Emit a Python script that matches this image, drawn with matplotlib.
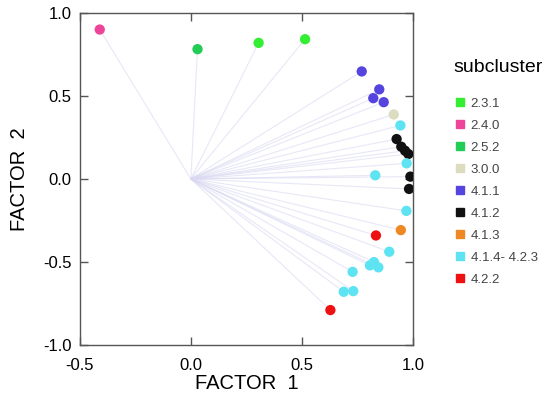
import numpy as np
import matplotlib
matplotlib.use('Agg')
import matplotlib.pyplot as plt
from matplotlib.lines import Line2D

plt.rcParams['font.family'] = ['Liberation Sans', 'DejaVu Sans']
plt.rcParams['axes.unicode_minus'] = False

# subcluster names and colours (legend order)
subclusters = ['2.3.1', '2.4.0', '2.5.2', '3.0.0', '4.1.1', '4.1.2', '4.1.3', '4.1.4- 4.2.3', '4.2.2']
colors = ['#33ee33', '#ee4499', '#22cc55', '#dcdcc0', '#5544dd', '#111111', '#ee8822', '#5ee3f2', '#ee1111']

# loadings
factor1 = [-0.41, 0.03, 0.305, 0.514,
           0.769, 0.848, 0.821, 0.868,
           0.913,
           0.943, 0.926, 0.947, 0.964, 0.979,
           0.971, 0.830, 0.988, 0.982,
           0.970, 0.945, 0.833, 0.893,
           0.824, 0.806, 0.844, 0.728,
           0.688, 0.731, 0.628]
factor2 = [0.899, 0.781, 0.819, 0.841,
           0.647, 0.539, 0.486, 0.462,
           0.388,
           0.322, 0.240, 0.194, 0.170, 0.150,
           0.094, 0.022, 0.014, -0.060,
           -0.192, -0.308, -0.340, -0.438,
           -0.500, -0.520, -0.532, -0.559,
           -0.679, -0.675, -0.789]
group = ['2.4.0', '2.5.2', '2.3.1', '2.3.1',
         '4.1.1', '4.1.1', '4.1.1', '4.1.1',
         '3.0.0',
         '4.1.4- 4.2.3', '4.1.2', '4.1.2', '4.1.2', '4.1.2',
         '4.1.4- 4.2.3', '4.1.4- 4.2.3', '4.1.2', '4.1.2',
         '4.1.4- 4.2.3', '4.1.3', '4.2.2', '4.1.4- 4.2.3',
         '4.1.4- 4.2.3', '4.1.4- 4.2.3', '4.1.4- 4.2.3', '4.1.4- 4.2.3',
         '4.1.4- 4.2.3', '4.1.4- 4.2.3', '4.2.2']

cmap = dict(zip(subclusters, colors))

fig = plt.figure(figsize=(5.5, 3.99), dpi=100)
ax = fig.add_axes([0.145, 0.135, 0.606, 0.833])

for x, y in zip(factor1, factor2):
    ax.plot([0, x], [0, y], color='#d8d8f2', linewidth=0.8, alpha=0.6, zorder=1)
ax.scatter(factor1, factor2, c=[cmap[g] for g in group], s=55, zorder=3, linewidths=0)

ax.set_xlim(-0.5, 1.0)
ax.set_ylim(-1.0, 1.0)
ax.set_xticks([-0.5, 0.0, 0.5, 1.0])
ax.set_yticks([-1.0, -0.5, 0.0, 0.5, 1.0])
ax.tick_params(direction='in', length=6, width=1, color='#555555', labelsize=12,
               top=True, right=True)
ax.tick_params(axis='x', pad=9)
ax.tick_params(axis='y', pad=6)
for s in ax.spines.values():
    s.set_color('#555555')
    s.set_linewidth(1)
ax.set_xlabel('FACTOR  1', fontsize=14.5, labelpad=1)
ax.set_ylabel('FACTOR  2', fontsize=14.5, labelpad=10)

fig.text(0.824, 0.83, 'subcluster', fontsize=14, va='center', ha='left')
handles = [Line2D([], [], marker='s', linestyle='none', color=c, markersize=5.5) for c in colors]
leg = fig.legend(handles, subclusters, loc='upper left',
                 bbox_to_anchor=(0.803, 0.785), frameon=False, fontsize=9.5,
                 labelspacing=0.74, handletextpad=0.3, handlelength=1.0)
for t in leg.get_texts():
    t.set_color('#444444')

fig.savefig('out.png', dpi=100)
